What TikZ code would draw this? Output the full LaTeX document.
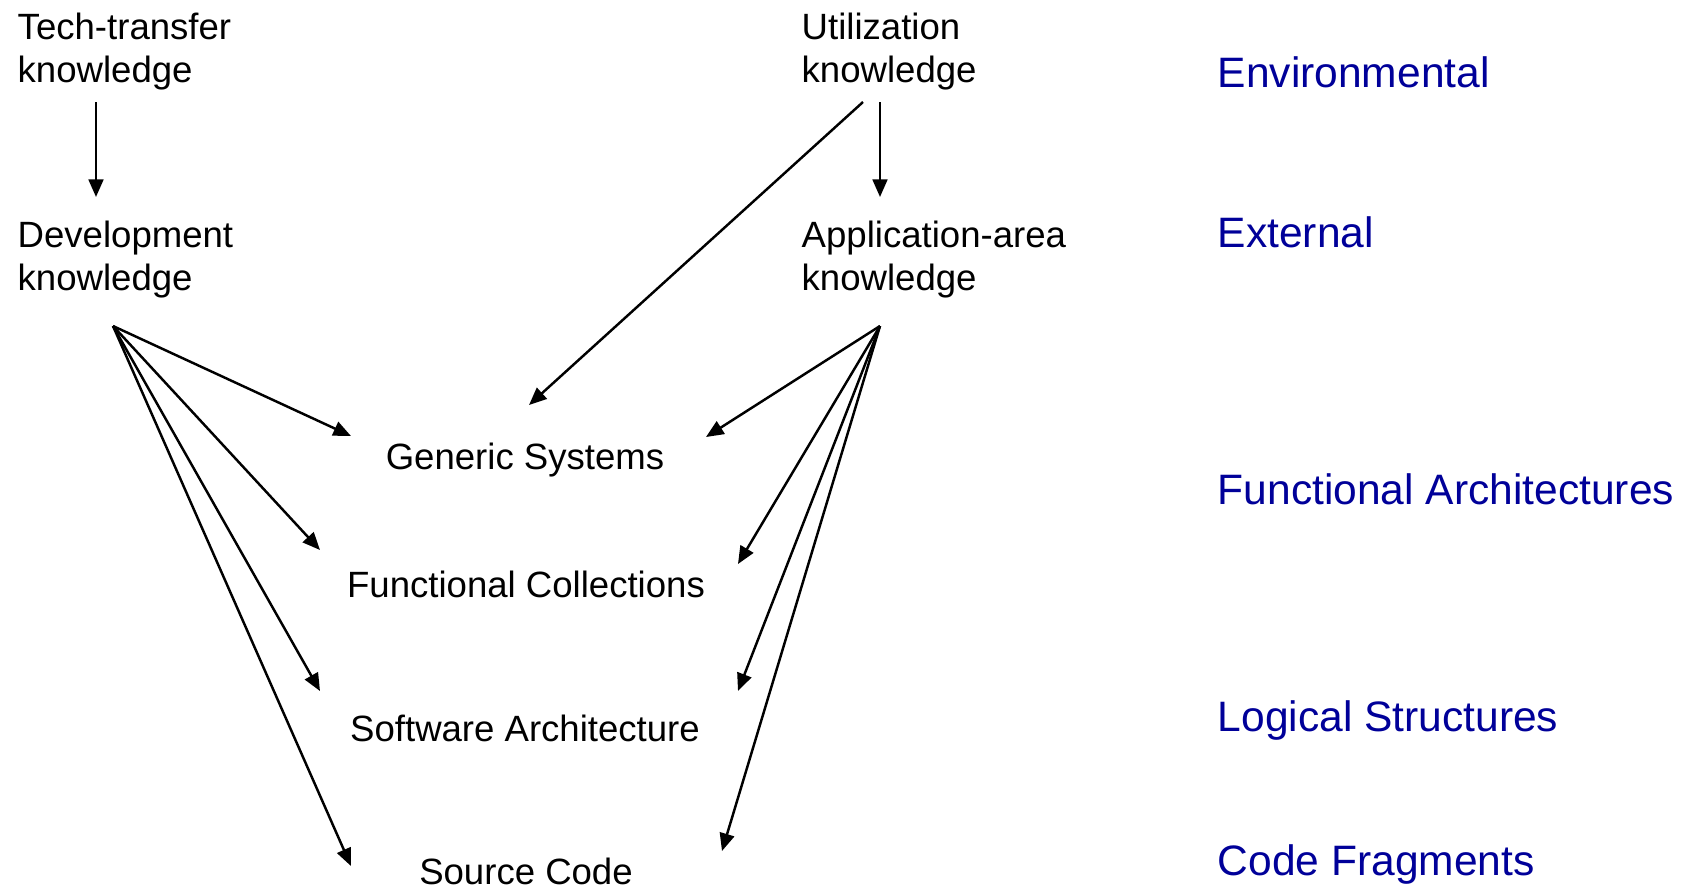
\documentclass[tikz,border=0pt]{standalone}
\usepackage{fontspec}
\setmainfont{Liberation Sans}
\usetikzlibrary{arrows.meta}
\definecolor{levelblue}{RGB}{0,0,153}
\begin{document}
\begin{tikzpicture}[x=0.01cm,y=-0.01cm,
  know/.style={inner sep=0pt,anchor=base west,align=left,
    font=\fontsize{10.4}{12}\selectfont},
  art/.style={inner sep=0pt,anchor=base,font=\fontsize{10.4}{12}\selectfont},
  level/.style={inner sep=0pt,anchor=base west,text=levelblue,
    font=\fontsize{12.1}{14}\selectfont},
  link/.style={line width=0.7pt,-{Triangle[length=5pt,width=4.2pt]}}]
\useasboundingbox (0,0) rectangle (1684,887);

% knowledge sources (anchored at the baseline of the second line)
\node[know] (tech) at (17,82) {Tech-transfer\\knowledge};
\node[know] (util) at (801,82) {Utilization\\knowledge};
\node[know] (dev)  at (17,290) {Development\\knowledge};
\node[know] (app)  at (801,290) {Application-area\\knowledge};

% artefacts
\node[art] (gen) at (525,469) {Generic Systems};
\node[art] (fc)  at (526,597) {Functional Collections};
\node[art] (sa)  at (525,741) {Software Architecture};
\node[art] (sc)  at (526,884) {Source Code};

% levels
\node[level] (lenv) at (1217,87)  {Environmental};
\node[level] (lext) at (1217,247) {External};
\node[level] (lfa)  at (1217,504) {Functional Architectures};
\node[level] (lls)  at (1217,731) {Logical Structures};
\node[level] (lcf)  at (1217,875) {Code Fragments};

% connector ports
\coordinate (tech-out) at (96,102);
\coordinate (dev-in)   at (96,197);
\coordinate (util-out) at (880,102);
\coordinate (util-out2) at (863,102);
\coordinate (app-in)   at (880,197);
\coordinate (dev-out)  at (113,326);
\coordinate (app-out)  at (880,326);
\coordinate (gen-l) at (351,436);
\coordinate (fc-l)  at (320,550);
\coordinate (sa-l)  at (320,691);
\coordinate (sc-l)  at (351,866);
\coordinate (gen-t) at (529,405);
\coordinate (gen-r) at (706,437);
\coordinate (fc-r)  at (738,564);
\coordinate (sa-r)  at (738,691);
\coordinate (sc-r)  at (722,851);

\draw[link] (tech-out) -- (dev-in);
\draw[link] (util-out) -- (app-in);
\draw[link] (util-out2) -- (gen-t);
\foreach \t in {gen-l,fc-l,sa-l,sc-l} \draw[link] (dev-out) -- (\t);
\foreach \t in {gen-r,fc-r,sa-r,sc-r} \draw[link] (app-out) -- (\t);
\end{tikzpicture}
\end{document}
